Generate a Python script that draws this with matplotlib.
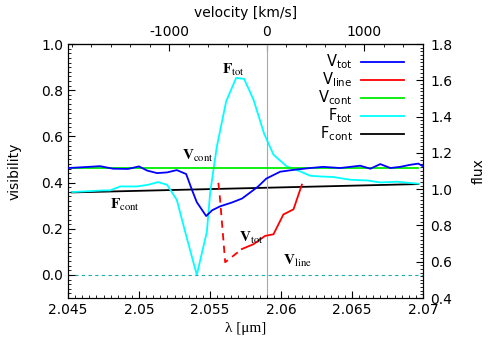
import numpy as np
import matplotlib
matplotlib.use('Agg')
import matplotlib.pyplot as plt
from matplotlib.ticker import MultipleLocator, FixedLocator, FuncFormatter

plt.rcParams.update({
    'font.family': 'DejaVu Sans',
    'font.size': 10,
    'mathtext.fontset': 'stix',
    'axes.unicode_minus': False,
    'xtick.direction': 'in',
    'ytick.direction': 'in',
    'xtick.major.size': 5,
    'ytick.major.size': 5,
    'xtick.minor.size': 2.5,
    'ytick.minor.size': 2.5,
})

# rest wavelength of the line (um) and speed of light (km/s)
lam0 = 2.0590
c_kms = 299792.458

# visibility, total (blue)
lam_vtot = [2.04502, 2.0462, 2.04726, 2.04817, 2.04923, 2.05000, 2.05057, 2.05127,
            2.05198, 2.05266, 2.05332, 2.05372, 2.05407, 2.05473, 2.05515, 2.05571,
            2.05656, 2.05726, 2.05783, 2.05839, 2.05896, 2.05994, 2.06100, 2.06206,
            2.06297, 2.06417, 2.06488, 2.06558, 2.06629, 2.06699, 2.06770, 2.06840,
            2.06910, 2.06967, 2.07002]
vtot = [0.463, 0.467, 0.471, 0.460, 0.459, 0.470, 0.452, 0.441,
        0.444, 0.454, 0.437, 0.370, 0.315, 0.255, 0.280, 0.297,
        0.314, 0.331, 0.357, 0.383, 0.417, 0.447, 0.456, 0.463,
        0.468, 0.463, 0.468, 0.473, 0.460, 0.480, 0.463, 0.468,
        0.477, 0.482, 0.470]

# pure line visibility (red), first part is uncertain (dashed)
lam_vline = [2.05559, 2.05571, 2.05607, 2.05665, 2.05724, 2.05806, 2.05888,
             2.05947, 2.06017, 2.06088, 2.06147]
vline = [0.399, 0.327, 0.055, 0.083, 0.112, 0.133, 0.169,
         0.176, 0.262, 0.284, 0.391]
n_dashed = 5

# continuum visibility (green)
lam_vcont = [2.04526, 2.06967]
vcont = [0.463, 0.463]

# total flux (cyan)
lam_ftot = [2.04526, 2.04627, 2.04747, 2.04796, 2.04867, 2.04986, 2.05064, 2.05134,
            2.05198, 2.05266, 2.05337, 2.05407, 2.05478, 2.05501, 2.05548, 2.05614,
            2.05684, 2.05740, 2.05806, 2.05881, 2.05947, 2.06041, 2.06135, 2.06206,
            2.06276, 2.06368, 2.06488, 2.06607, 2.06699, 2.06819, 2.06967]
ftot = [0.984, 0.988, 0.993, 0.993, 1.015, 1.015, 1.024, 1.039,
        1.024, 0.941, 0.730, 0.527, 0.766, 0.980, 1.234, 1.485,
        1.613, 1.608, 1.494, 1.306, 1.190, 1.125, 1.098, 1.074,
        1.070, 1.067, 1.052, 1.048, 1.037, 1.041, 1.030]

# continuum flux (black)
lam_fcont = [2.04526, 2.06967]
fcont = [0.982, 1.028]

vel_ticks = [-1000, 0, 1000]

fig = plt.figure(figsize=(4.91, 3.44), dpi=100)
ax = fig.add_axes([0.1385, 0.1337, 0.723, 0.7383])
ax2 = ax.twinx()

ax.axvline(lam0, color='#a8a8a8', lw=0.8, zorder=1)
ax.axhline(0.0, color='#1aabab', lw=0.8, ls=(0, (3, 3)), zorder=1)

l_fcont, = ax2.plot(lam_fcont, fcont, color='black', lw=1.3, label=r'F$_{\mathregular{cont}}$')
l_ftot, = ax2.plot(lam_ftot, ftot, color='#00ffff', lw=1.3, label=r'F$_{\mathregular{tot}}$')
l_vcont, = ax2.plot([], [], color='#00ee00', lw=1.3, label=r'V$_{\mathregular{cont}}$')
ax.plot(lam_vcont, vcont, color='#00ee00', lw=1.3, zorder=3)
l_vtot, = ax.plot(lam_vtot, vtot, color='#0000ff', lw=1.3, zorder=4, label=r'V$_{\mathregular{tot}}$')
ax.plot(lam_vline[:n_dashed], vline[:n_dashed], color='#ff0000', lw=1.3, ls=(0, (4, 3)), zorder=4)
l_vline, = ax.plot(lam_vline[n_dashed - 1:], vline[n_dashed - 1:], color='#ff0000', lw=1.3, zorder=4,
                   label=r'V$_{\mathregular{line}}$')
ax.set_zorder(ax2.get_zorder() + 1)
ax.patch.set_visible(False)

ax.set_xlim(2.045, 2.07)
ax.set_ylim(-0.1, 1.0)
ax2.set_ylim(0.4, 1.8)

ax.xaxis.set_major_locator(MultipleLocator(0.005))
ax.xaxis.set_minor_locator(MultipleLocator(0.0005))
ax.xaxis.set_major_formatter(FuncFormatter(lambda x, p: '%g' % round(x, 4)))
ax.yaxis.set_major_locator(MultipleLocator(0.2))
ax.yaxis.set_minor_locator(MultipleLocator(0.02))
ax.yaxis.set_major_formatter(FuncFormatter(lambda y, p: '%.1f' % y))
ax2.yaxis.set_major_locator(MultipleLocator(0.2))
ax2.yaxis.set_minor_locator(MultipleLocator(0.02))
ax2.yaxis.set_major_formatter(FuncFormatter(lambda y, p: '%.1f' % y))
ax.tick_params(which='both', top=False)
ax2.tick_params(axis='y', pad=5)

top = ax.secondary_xaxis('top', functions=(lambda l: (l - lam0) / lam0 * c_kms,
                                             lambda v: lam0 + v * lam0 / c_kms))
top.xaxis.set_major_locator(FixedLocator(vel_ticks))
top.xaxis.set_minor_locator(MultipleLocator(200))
top.xaxis.set_major_formatter(FuncFormatter(lambda v, p: '%d' % round(v)))
top.tick_params(which='both', direction='in')
top.set_xlabel('velocity [km/s]', labelpad=6)

ax.set_xlabel('λ [μm]', family='Liberation Serif', fontsize=11, labelpad=4)
ax.set_ylabel('visibility', labelpad=14)
ax2.set_ylabel('flux', labelpad=14)

ann = dict(fontsize=11, ha='center', va='center', zorder=6)
ax.text(2.05663, 0.886, r'$\mathbf{F}_{\mathrm{tot}}$', **ann)
ax.text(2.05416, 0.516, r'$\mathbf{V}_{\mathrm{cont}}$', **ann)
ax.text(2.04902, 0.305, r'$\mathbf{F}_{\mathrm{cont}}$', **ann)
ax.text(2.0579, 0.159, r'$\mathbf{V}_{\mathrm{tot}}$', **ann)
ax.text(2.06114, 0.060, r'$\mathbf{V}_{\mathrm{line}}$', **ann)

ax.legend(handles=[l_vtot, l_vline, l_vcont, l_ftot, l_fcont], loc='upper right',
          bbox_to_anchor=(0.97, 1.0), frameon=False, markerfirst=False, fontsize=10.5,
          handlelength=2.9, labelspacing=0.0, handletextpad=0.6, borderaxespad=0.2)

fig.savefig('out.png', dpi=100)
